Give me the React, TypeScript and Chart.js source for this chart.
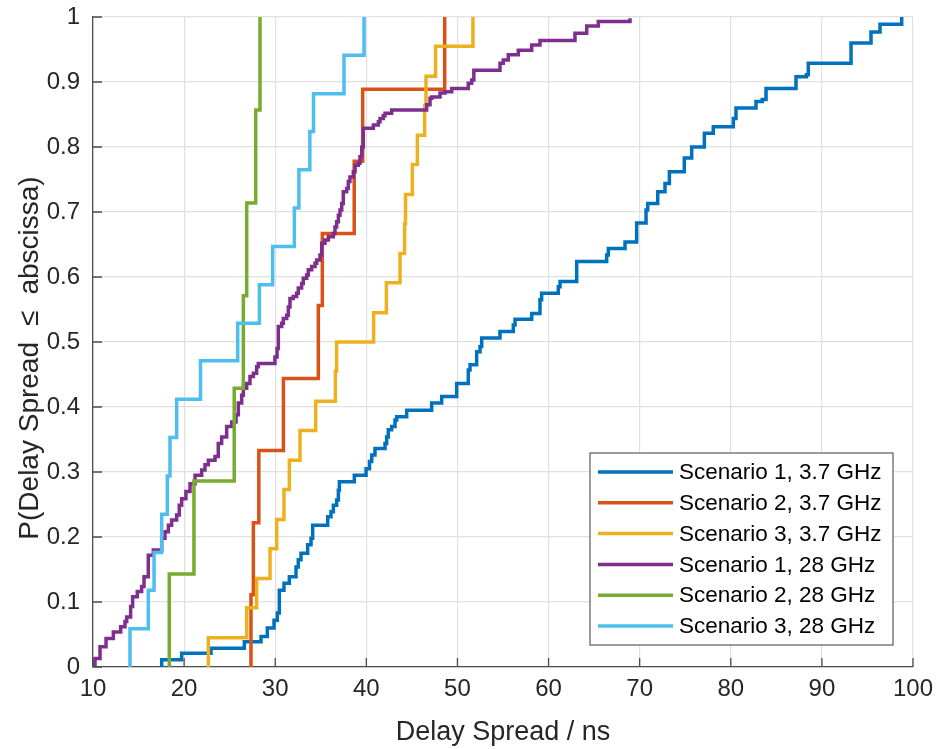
import React, { useEffect, useRef } from 'react';
import { Chart, registerables } from 'chart.js';

Chart.register(...registerables);

const FONT = '"Liberation Sans", Arial, Helvetica, sans-serif';
const TEXT_COLOR = '#262626';
const AXIS_COLOR = '#4d4d4d';
const GRID_COLOR = '#e0e0e0';
const LINE_WIDTH = 3.5;

// Axis ranges and tick steps
const xRange = [10, 100];
const yRange = [0, 1];
const xStep = 10;
const yStep = 0.1;

const xTitle = 'Delay Spread / ns';
const yTitleParts = ['P(Delay Spread', '\u2264', 'abscissa)'];

const seriesLabels = [
  'Scenario 1, 3.7 GHz',
  'Scenario 2, 3.7 GHz',
  'Scenario 3, 3.7 GHz',
  'Scenario 1, 28 GHz',
  'Scenario 2, 28 GHz',
  'Scenario 3, 28 GHz',
];
const seriesColors = ['#0072BD', '#D95319', '#EDB120', '#7E2F8E', '#77AC30', '#4DBEEE'];

// Empirical CDFs: each x is where a step happens, each y the level after it.
// Scenario 1, 3.7 GHz
const s1LowX = [
  17.54, 19.73, 22.95, 26.61, 28.44, 29.13, 29.87, 30.23, 30.45, 30.96, 31.55, 32.28, 32.53,
  32.83, 33.56, 33.93, 34.11, 35.76, 36.12, 36.38, 36.74, 36.93, 37.04, 38.68, 39.97, 40.35,
  40.59, 40.95, 42.05, 42.23, 42.41, 42.78, 43.15, 43.33, 44.43, 47.17, 48.27, 49.92, 51.19,
  51.38, 52.11, 52.48, 52.66, 54.67, 56.13, 56.32, 58.15, 59.06, 59.24, 61.07, 61.26, 63.09,
  66.38, 66.56, 68.39, 69.67, 70.7, 70.88, 71.98, 72.78, 73.26, 74.9, 75.71, 77.1, 78.08,
  80.28, 80.57, 82.77, 83.45, 83.87, 87.16, 88.3, 88.51, 93.2, 95.39, 96.38, 98.76,
];
const s1LowY = [
  0.011, 0.021, 0.029, 0.039, 0.047, 0.06, 0.072, 0.083, 0.118, 0.129, 0.139, 0.154, 0.165,
  0.175, 0.188, 0.198, 0.218, 0.231, 0.239, 0.249, 0.257, 0.272, 0.285, 0.295, 0.305, 0.316,
  0.326, 0.336, 0.344, 0.354, 0.365, 0.37, 0.38, 0.385, 0.395, 0.406, 0.416, 0.436, 0.457,
  0.465, 0.485, 0.493, 0.506, 0.516, 0.526, 0.535, 0.544, 0.565, 0.575, 0.585, 0.593, 0.624,
  0.634, 0.644, 0.654, 0.683, 0.703, 0.713, 0.731, 0.744, 0.762, 0.783, 0.8, 0.821, 0.831,
  0.844, 0.86, 0.87, 0.873, 0.89, 0.908, 0.911, 0.929, 0.96, 0.977, 0.989, 1.0,
];

// Scenario 2, 3.7 GHz
const s2LowX = [27.34, 27.6, 28.2, 30.9, 34.73, 35.17, 38.67, 39.6, 48.6];
const s2LowY = [0.111, 0.222, 0.333, 0.444, 0.556, 0.667, 0.778, 0.889, 1.0];

// Scenario 3, 3.7 GHz
const s3LowX = [
  22.66, 26.87, 27.96, 29.43, 30.16, 30.96, 31.55, 32.72, 34.44, 36.6, 36.74, 40.8, 42.2,
  43.7, 44.2, 44.3, 45.05, 45.6, 46.4, 46.55, 47.6, 51.7,
];
const s3LowY = [
  0.045, 0.091, 0.136, 0.182, 0.227, 0.273, 0.318, 0.364, 0.409, 0.455, 0.5, 0.545, 0.591,
  0.636, 0.682, 0.727, 0.773, 0.818, 0.864, 0.909, 0.955, 1.0,
];

// Scenario 1, 28 GHz
const s1HighX = [
  10.22, 10.77, 11.43, 12.23, 13.04, 13.51, 13.7, 14.13, 14.35, 14.86, 15.34, 15.6, 16.07,
  16.62, 17.54, 17.9, 18.27, 18.63, 19.18, 19.47, 19.73, 20.2, 20.65, 21.2, 21.93, 22.29,
  22.66, 23.39, 23.75, 24.12, 24.67, 25.22, 25.7, 25.95, 26.32, 26.5, 26.87, 27.23, 27.6,
  27.96, 28.14, 29.97, 30.2, 30.34, 30.71, 30.89, 31.26, 31.44, 31.62, 31.98, 32.35, 32.53,
  32.9, 33.08, 33.45, 33.63, 34.0, 34.37, 34.55, 34.91, 35.1, 35.46, 35.83, 36.38, 36.56,
  36.74, 36.93, 37.11, 37.3, 37.47, 37.84, 38.02, 38.2, 38.57, 38.76, 39.12, 39.3, 39.5,
  39.67, 40.77, 41.32, 41.5, 41.86, 42.05, 42.78, 46.62, 46.99, 47.17, 48.09, 48.63, 49.37,
  51.19, 51.56, 51.8, 54.67, 55.03, 55.58, 56.68, 58.15, 59.06, 62.9, 64.19, 65.46, 68.94,
];
const s1HighY = [
  0.013, 0.031, 0.044, 0.054, 0.062, 0.07, 0.077, 0.093, 0.108, 0.116, 0.124, 0.139, 0.172,
  0.18, 0.198, 0.208, 0.218, 0.226, 0.234, 0.249, 0.259, 0.27, 0.282, 0.295, 0.303, 0.311,
  0.318, 0.324, 0.344, 0.354, 0.37, 0.377, 0.388, 0.406, 0.418, 0.429, 0.436, 0.447, 0.452,
  0.462, 0.467, 0.477, 0.49, 0.524, 0.529, 0.536, 0.541, 0.554, 0.567, 0.57, 0.575, 0.583,
  0.59, 0.598, 0.603, 0.611, 0.616, 0.621, 0.626, 0.634, 0.652, 0.657, 0.662, 0.667, 0.677,
  0.685, 0.695, 0.703, 0.713, 0.731, 0.736, 0.747, 0.754, 0.762, 0.772, 0.775, 0.785, 0.8,
  0.829, 0.834, 0.839, 0.844, 0.848, 0.852, 0.857, 0.865, 0.875, 0.877, 0.883, 0.885, 0.89,
  0.898, 0.903, 0.918, 0.929, 0.934, 0.942, 0.949, 0.957, 0.964, 0.975, 0.986, 0.993, 0.998,
];

// Scenario 2, 28 GHz
const s2HighX = [18.37, 21.08, 25.5, 26.5, 26.87, 27.86, 28.33];
const s2HighY = [0.143, 0.286, 0.429, 0.571, 0.714, 0.857, 1.0];

// Scenario 3, 28 GHz
const s3HighX = [
  14.06, 16.07, 16.7, 17.54, 18.16, 18.45, 19.18, 21.8, 25.88, 28.26, 29.72, 32.1, 32.6, 33.8,
  34.2, 37.55, 39.75,
];
const s3HighY = [
  0.059, 0.118, 0.176, 0.235, 0.294, 0.353, 0.412, 0.471, 0.529, 0.588, 0.647, 0.706, 0.765,
  0.824, 0.882, 0.941, 1.0,
];

const seriesX = [s1LowX, s2LowX, s3LowX, s1HighX, s2HighX, s3HighX];
const seriesY = [s1LowY, s2LowY, s3LowY, s1HighY, s2HighY, s3HighY];

// Stair points: start at zero at the first sample, then rise at each sample.
function stairPoints(xs: number[], ys: number[]) {
  return [{ x: xs[0], y: 0 }, ...xs.map((x, i) => ({ x, y: ys[i] }))];
}

// Inward tick marks on the left and bottom axes.
const innerTicks = {
  id: 'innerTicks',
  afterDraw(chart: any) {
    const { ctx, chartArea, scales } = chart;
    const len = 9;
    ctx.save();
    ctx.strokeStyle = AXIS_COLOR;
    ctx.lineWidth = 1.3;
    ctx.beginPath();
    scales.x.ticks.forEach((t: any) => {
      const px = scales.x.getPixelForValue(t.value);
      ctx.moveTo(px, chartArea.bottom);
      ctx.lineTo(px, chartArea.bottom - len);
    });
    scales.y.ticks.forEach((t: any) => {
      const py = scales.y.getPixelForValue(t.value);
      ctx.moveTo(chartArea.left, py);
      ctx.lineTo(chartArea.left + len, py);
    });
    ctx.stroke();
    ctx.restore();
  },
};

// Rotated y-axis title with a little extra spacing around the relation sign.
const yAxisTitle = {
  id: 'yAxisTitle',
  afterDraw(chart: any) {
    const { ctx, chartArea } = chart;
    const gap = 16;
    ctx.save();
    ctx.font = `28px ${FONT}`;
    ctx.fillStyle = TEXT_COLOR;
    ctx.textBaseline = 'middle';
    ctx.textAlign = 'left';
    const widths = yTitleParts.map((p) => ctx.measureText(p).width);
    const total = widths.reduce((a, b) => a + b, 0) + gap * (yTitleParts.length - 1);
    const cy = (chartArea.top + chartArea.bottom) / 2 + 16;
    ctx.translate(30, cy);
    ctx.rotate(-Math.PI / 2);
    let x = -total / 2;
    yTitleParts.forEach((p, i) => {
      ctx.fillText(p, x, 0);
      x += widths[i] + gap;
    });
    ctx.restore();
  },
};

// Boxed legend in the lower-right corner of the plot area.
const boxLegend = {
  id: 'boxLegend',
  afterDraw(chart: any) {
    const { ctx, chartArea } = chart;
    const datasets = chart.data.datasets;
    const rowH = 30.8;
    const boxW = 303;
    const boxH = 19 * 2 + rowH * (datasets.length - 1);
    const right = chartArea.right - 20;
    const bottom = chartArea.bottom - 22;
    const left = right - boxW;
    const top = bottom - boxH;
    ctx.save();
    ctx.fillStyle = '#ffffff';
    ctx.fillRect(left, top, boxW, boxH);
    ctx.strokeStyle = '#5a5a5a';
    ctx.lineWidth = 1.2;
    ctx.strokeRect(left, top, boxW, boxH);
    ctx.font = `22.5px ${FONT}`;
    ctx.textBaseline = 'middle';
    ctx.textAlign = 'left';
    datasets.forEach((ds: any, i: number) => {
      const cy = top + 19 + i * rowH;
      ctx.strokeStyle = ds.borderColor;
      ctx.lineWidth = LINE_WIDTH;
      ctx.beginPath();
      ctx.moveTo(left + 8, cy);
      ctx.lineTo(left + 83, cy);
      ctx.stroke();
      ctx.fillStyle = '#000000';
      ctx.fillText(ds.label, left + 89, cy + 1);
    });
    ctx.restore();
  },
};

export default function App() {
  const canvasRef = useRef<HTMLCanvasElement | null>(null);

  useEffect(() => {
    const canvas = canvasRef.current;
    if (!canvas) return;
    const chart = new Chart(canvas, {
      type: 'line',
      data: {
        datasets: seriesLabels.map((label, i) => ({
          label,
          data: stairPoints(seriesX[i], seriesY[i]),
          borderColor: seriesColors[i],
          backgroundColor: seriesColors[i],
          borderWidth: LINE_WIDTH,
          pointRadius: 0,
          stepped: 'before' as const,
          fill: false,
          order: seriesLabels.length - i,
          borderCapStyle: 'butt' as const,
          borderJoinStyle: 'miter' as const,
        })),
      },
      options: {
        responsive: false,
        animation: false,
        events: [],
        layout: { padding: { top: 17, right: 24, left: 0, bottom: 0 } },
        plugins: {
          legend: { display: false },
          tooltip: { enabled: false },
        },
        scales: {
          x: {
            type: 'linear',
            min: xRange[0],
            max: xRange[1],
            ticks: {
              stepSize: xStep,
              padding: 8,
              color: TEXT_COLOR,
              font: { family: FONT, size: 24 },
              maxRotation: 0,
            },
            grid: { color: GRID_COLOR, lineWidth: 1.2, drawTicks: false },
            border: { display: true, color: AXIS_COLOR, width: 1.3 },
            title: {
              display: true,
              text: xTitle,
              color: TEXT_COLOR,
              font: { family: FONT, size: 27 },
              padding: { top: 0, bottom: 0 },
            },
            afterFit: (scale: any) => {
              scale.height = 82;
              scale.paddingLeft = 0;
              scale.paddingRight = 0;
            },
          },
          y: {
            type: 'linear',
            min: yRange[0],
            max: yRange[1],
            ticks: {
              stepSize: yStep,
              padding: 13,
              color: TEXT_COLOR,
              font: { family: FONT, size: 24 },
              callback: (v: any) => Number(v).toFixed(1).replace(/\.0$/, ''),
            },
            grid: { color: GRID_COLOR, lineWidth: 1.2, drawTicks: false },
            border: { display: true, color: AXIS_COLOR, width: 1.3 },
            title: { display: false },
            afterFit: (scale: any) => {
              scale.width = 93;
              scale.paddingTop = 0;
              scale.paddingBottom = 0;
            },
          },
        },
      },
      plugins: [innerTicks, yAxisTitle, boxLegend],
    });
    return () => chart.destroy();
  }, []);

  return (
    <div style={{ position: 'absolute', left: 0, top: 0, width: 937, height: 749, background: '#ffffff' }}>
      <canvas ref={canvasRef} width={937} height={749} style={{ display: 'block' }} />
    </div>
  );
}
